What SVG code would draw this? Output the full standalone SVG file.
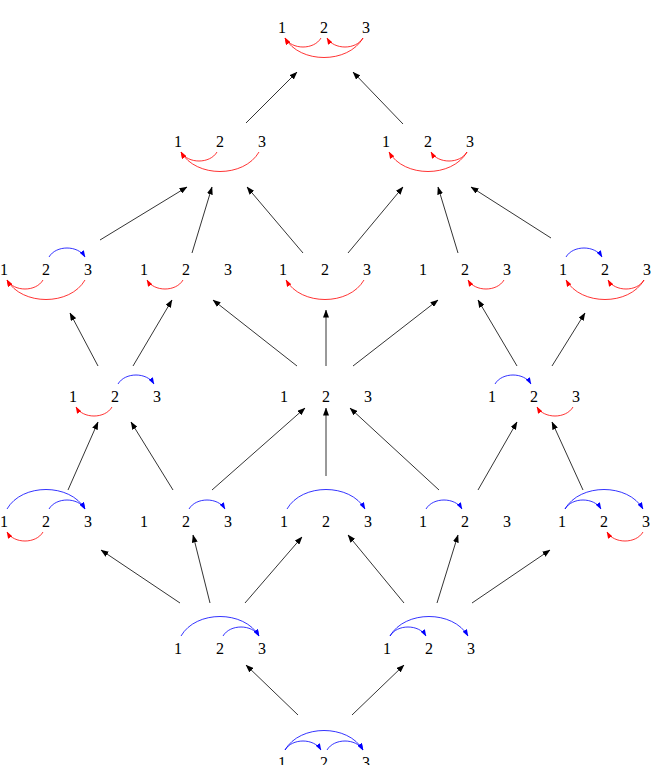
<svg xmlns="http://www.w3.org/2000/svg" width="654" height="765" viewBox="0 0 654 765">
<style>
text{font-family:"Liberation Serif","DejaVu Serif",serif;font-size:16px;text-anchor:middle;fill:#000}
.r{fill:none;stroke:#f00;stroke-width:0.8;marker-end:url(#ar)}
.b{fill:none;stroke:#00f;stroke-width:0.8;marker-end:url(#ab)}
.k{fill:none;stroke:#000;stroke-width:0.8;marker-end:url(#ak)}
</style>
<defs>
<marker id="ak" viewBox="0 0 8 6" refX="7.5" refY="3" markerWidth="8" markerHeight="6" orient="auto" markerUnits="userSpaceOnUse"><path d="M0,0 L8,3 L0,6 z" fill="#000"/></marker>
<marker id="ar" viewBox="0 0 7 5" refX="6.5" refY="2.5" markerWidth="7" markerHeight="5" orient="auto" markerUnits="userSpaceOnUse"><path d="M0,0 L7,2.5 L0,5 z" fill="#f00"/></marker>
<marker id="ab" viewBox="0 0 7 5" refX="6.5" refY="2.5" markerWidth="7" markerHeight="5" orient="auto" markerUnits="userSpaceOnUse"><path d="M0,0 L7,2.5 L0,5 z" fill="#00f"/></marker>
<g id="lbl"><text x="0" y="5.5">1</text><text x="42" y="5.5">2</text><text x="84" y="5.5">3</text></g>
<path id="r21" class="r" d="M39,11 C32,23 10,23 3,11"/>
<path id="r32" class="r" d="M81,11 C74,23 52,23 45,11"/>
<path id="r31" class="r" d="M81,11 C66,37 18,37 3,11"/>
<path id="b12" class="b" d="M3,-12 C10,-24 32,-24 39,-12"/>
<path id="b23" class="b" d="M45,-12 C52,-24 74,-24 81,-12"/>
<path id="b13" class="b" d="M3,-12 C18,-38 66,-38 81,-12"/>
</defs>

<g id="connectors">
<path class="k" d="M246,123 L297,72"/>
<path class="k" d="M403,124 L353,72"/>
<path class="k" d="M100,240 L187,187"/>
<path class="k" d="M192,253 L212,187"/>
<path class="k" d="M303,253 L247,187"/>
<path class="k" d="M348,253 L403,187"/>
<path class="k" d="M458,253 L438,187"/>
<path class="k" d="M551,238 L471,187"/>
<path class="k" d="M98,366 L70,313"/>
<path class="k" d="M133,366 L172,300"/>
<path class="k" d="M297,366 L213,300"/>
<path class="k" d="M326,366 L326,310"/>
<path class="k" d="M353,366 L438,300"/>
<path class="k" d="M517,366 L478,300"/>
<path class="k" d="M552,366 L585,313"/>
<path class="k" d="M68,490 L98,422"/>
<path class="k" d="M173,490 L131,422"/>
<path class="k" d="M212,490 L305,408"/>
<path class="k" d="M326,476 L326,408"/>
<path class="k" d="M439,490 L350,408"/>
<path class="k" d="M478,490 L517,422"/>
<path class="k" d="M583,490 L552,422"/>
<path class="k" d="M180,603 L101,550"/>
<path class="k" d="M210,603 L193,535"/>
<path class="k" d="M245,603 L302,537"/>
<path class="k" d="M404,603 L348,535"/>
<path class="k" d="M437,603 L458,535"/>
<path class="k" d="M472,603 L550,550"/>
<path class="k" d="M298,715 L246,665"/>
<path class="k" d="M352,715 L404,665"/>
</g>

<g id="n0" transform="translate(282,27)"><use href="#lbl"/><use href="#r21"/><use href="#r32"/><use href="#r31"/></g>
<g id="n1a" transform="translate(178,141)"><use href="#lbl"/><use href="#r21"/><use href="#r31"/></g>
<g id="n1b" transform="translate(386,141)"><use href="#lbl"/><use href="#r32"/><use href="#r31"/></g>
<g id="n2a" transform="translate(4,269)"><use href="#lbl"/><use href="#b23"/><use href="#r21"/><use href="#r31"/></g>
<g id="n2b" transform="translate(144,269)"><use href="#lbl"/><use href="#r21"/></g>
<g id="n2c" transform="translate(283,269)"><use href="#lbl"/><use href="#r31"/></g>
<g id="n2d" transform="translate(423,269)"><use href="#lbl"/><use href="#r32"/></g>
<g id="n2e" transform="translate(563,269)"><use href="#lbl"/><use href="#b12"/><use href="#r32"/><use href="#r31"/></g>
<g id="n3a" transform="translate(73,396)"><use href="#lbl"/><use href="#b23"/><use href="#r21"/></g>
<g id="n3b" transform="translate(284,396)"><use href="#lbl"/></g>
<g id="n3c" transform="translate(492,396)"><use href="#lbl"/><use href="#b12"/><use href="#r32"/></g>
<g id="n4a" transform="translate(4,521)"><use href="#lbl"/><use href="#b13"/><use href="#b23"/><use href="#r21"/></g>
<g id="n4b" transform="translate(144,521)"><use href="#lbl"/><use href="#b23"/></g>
<g id="n4c" transform="translate(284,521)"><use href="#lbl"/><use href="#b13"/></g>
<g id="n4d" transform="translate(423,521)"><use href="#lbl"/><use href="#b12"/></g>
<g id="n4e" transform="translate(562,521)"><use href="#lbl"/><use href="#b12"/><use href="#b13"/><use href="#r32"/></g>
<g id="n5a" transform="translate(178,648)"><use href="#lbl"/><use href="#b13"/><use href="#b23"/></g>
<g id="n5b" transform="translate(387,648)"><use href="#lbl"/><use href="#b12"/><use href="#b13"/></g>
<g id="n6" transform="translate(282,762)"><use href="#lbl"/><use href="#b12"/><use href="#b23"/><use href="#b13"/></g>
</svg>
